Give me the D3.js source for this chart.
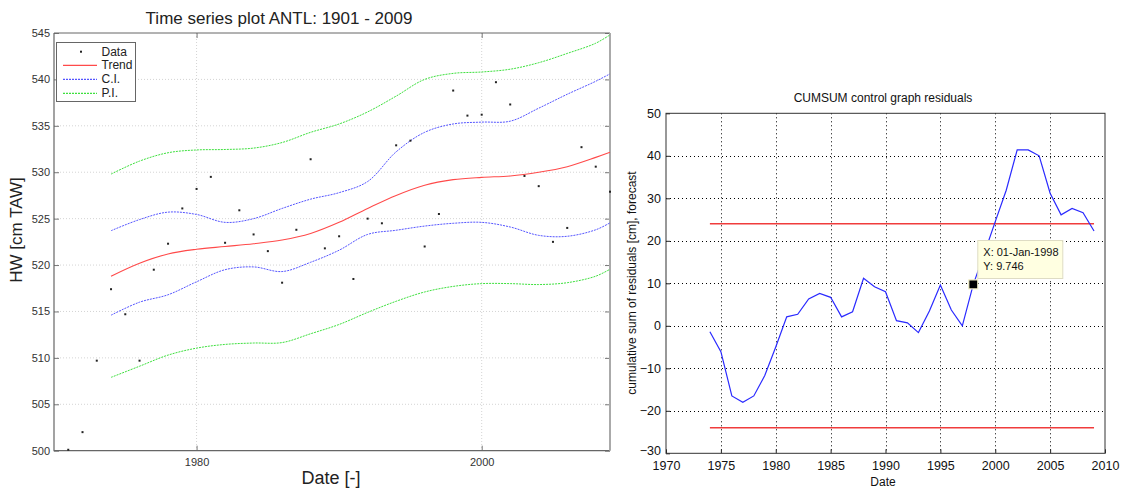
<!DOCTYPE html>
<html>
<head>
<meta charset="utf-8">
<script src="https://cdn.jsdelivr.net/npm/d3@7"></script>
<style>
  body { margin: 0; background: #fff; }
  svg { display: block; font-family: "Liberation Sans", Arial, sans-serif; }
</style>
</head>
<body>
<div id="d3-container"></div>
<script>
/**
 * CONSTANTS AND GLOBALS
 * two panels side by side: time series (left) and CUMSUM control graph (right)
 * */
const width = 1122,
  height = 490;

// left panel: yearly HW values 1971-2009
const dataYears = d3.range(1971, 2010);
const dataValues = [
  500.1, 502.0, 509.7, 517.4, 514.7, 509.7, 519.5, 522.3, 526.1, 528.2,
  529.5, 522.4, 525.9, 523.3, 521.5, 518.1, 523.8, 531.4, 521.8, 523.1,
  518.5, 525.0, 524.5, 532.9, 533.4, 522.0, 525.5, 538.8, 536.1, 536.2,
  539.7, 537.3, 529.6, 528.5, 522.5, 524.0, 532.7, 530.6, 527.9
];

// trend + intervals, read every two years (plus 2009)
const curveYears = [1974, 1976, 1978, 1980, 1982, 1984, 1986, 1988, 1990, 1992,
  1994, 1996, 1998, 2000, 2002, 2004, 2006, 2008, 2009];
const trendValues = [518.8, 520.2, 521.2, 521.7, 522.0, 522.3, 522.7, 523.4, 524.6, 526.1,
  527.5, 528.6, 529.2, 529.45, 529.6, 530.0, 530.6, 531.6, 532.15];
const ciUpper = [523.7, 524.9, 525.7, 525.45, 524.6, 525.0, 526.1, 527.1, 527.8, 529.0,
  532.2, 534.3, 535.2, 535.4, 535.5, 536.9, 538.4, 539.8, 540.6];
const ciLower = [514.6, 516.0, 516.8, 518.2, 519.5, 519.8, 519.3, 520.3, 521.6, 523.3,
  523.75, 524.2, 524.5, 524.6, 524.1, 523.2, 523.1, 523.8, 524.55];
const piUpper = [529.8, 531.2, 532.1, 532.4, 532.45, 532.6, 533.2, 534.3, 535.2, 536.5,
  538.2, 540.0, 540.65, 540.8, 541.1, 541.8, 542.8, 543.9, 544.8];
const piLower = [507.9, 509.1, 510.3, 511.05, 511.45, 511.6, 511.65, 512.6, 513.6, 514.9,
  516.1, 517.1, 517.7, 518.0, 518.0, 517.9, 518.1, 518.8, 519.55];

const leftTicksX = [1980, 2000];
const leftTicksY = d3.range(500, 546, 5);

// right panel: cumulative sum of residuals 1974-2009
const cumYears = d3.range(1974, 2010);
const cumValues = [
  -1.4, -6.1, -16.5, -18.0, -16.5, -11.7, -5.0, 2.1, 2.7, 6.3,
  7.6, 6.7, 2.1, 3.3, 11.2, 9.2, 8.0, 1.2, 0.7, -1.6,
  3.5, 9.6, 3.7, 0.0, 9.746, 17.0, 24.5, 31.9, 41.4, 41.4,
  40.0, 31.2, 26.1, 27.6, 26.6, 22.3
];
const controlLimit = 24;
const controlYears = [1974, 2009];
const rightTicksX = d3.range(1970, 2011, 5);
const rightTicksY = d3.range(-30, 51, 10);
const markedYear = 1998,
  markedValue = 9.746;

const svg = d3
  .select("#d3-container")
  .append("svg")
  .attr("width", width)
  .attr("height", height);

drawLeft();
drawRight();

/**
 * LEFT PANEL
 * */
function drawLeft() {
  const m = { left: 54, right: 610, top: 33, bottom: 450.7 };
  const xScale = d3.scaleLinear().domain([1970, 2009]).range([m.left, m.right]);
  const yScale = d3.scaleLinear().domain([500, 545]).range([m.bottom, m.top]);
  const g = svg.append("g");

  // grid
  g.selectAll(".gy")
    .data(leftTicksY.slice(1, -1))
    .join("line")
    .attr("x1", m.left).attr("x2", m.right)
    .attr("y1", d => yScale(d)).attr("y2", d => yScale(d))
    .attr("stroke", "#d4d4d4").attr("stroke-dasharray", "1,2");
  g.selectAll(".gx")
    .data(leftTicksX)
    .join("line")
    .attr("y1", m.top).attr("y2", m.bottom)
    .attr("x1", d => xScale(d)).attr("x2", d => xScale(d))
    .attr("stroke", "#d4d4d4").attr("stroke-dasharray", "1,2");

  // axes (ticks point inwards like matlab)
  const yAxis = g.append("g")
    .attr("transform", `translate(${m.left},0)`)
    .call(d3.axisLeft(yScale).tickValues(leftTicksY).tickSizeInner(-5).tickSizeOuter(0).tickPadding(4));
  const yAxisR = g.append("g")
    .attr("transform", `translate(${m.right},0)`)
    .call(d3.axisRight(yScale).tickValues(leftTicksY).tickSizeInner(-5).tickSizeOuter(0).tickFormat(""));
  const xAxis = g.append("g")
    .attr("transform", `translate(0,${m.bottom})`)
    .call(d3.axisBottom(xScale).tickValues(leftTicksX).tickFormat(d3.format("d")).tickSizeInner(-5).tickSizeOuter(0).tickPadding(8));
  const xAxisT = g.append("g")
    .attr("transform", `translate(0,${m.top})`)
    .call(d3.axisTop(xScale).tickValues(leftTicksX).tickSizeInner(-5).tickSizeOuter(0).tickFormat(""));
  [yAxis, yAxisR, xAxis, xAxisT].forEach(a => {
    a.select(".domain").remove();
    a.selectAll("line").attr("stroke", "#777");
    a.selectAll("text").attr("font-size", 11).attr("fill", "#333")
      .attr("font-family", "'Liberation Sans', Arial, sans-serif");
  });

  // frame
  g.append("path")
    .attr("d", `M${m.left},${m.top}H${m.right}`)
    .attr("stroke", "#666").attr("fill", "none");
  g.append("path")
    .attr("d", `M${m.left},${m.top}V${m.bottom}H${m.right}`)
    .attr("stroke", "#666").attr("stroke-width", 1.2).attr("fill", "none");
  g.append("path")
    .attr("d", `M${m.right},${m.top}V${m.bottom}`)
    .attr("stroke", "#aaa").attr("stroke-width", 2).attr("fill", "none");

  // curves
  const line = vals => d3.line()
    .x((d, i) => xScale(curveYears[i]))
    .y(d => yScale(d))
    .curve(d3.curveCatmullRom)(vals);

  g.append("path").attr("d", line(piUpper))
    .attr("fill", "none").attr("stroke", "#3ee03e").attr("stroke-width", 1).attr("stroke-dasharray", "2,1");
  g.append("path").attr("d", line(piLower))
    .attr("fill", "none").attr("stroke", "#3ee03e").attr("stroke-width", 1).attr("stroke-dasharray", "2,1");
  g.append("path").attr("d", line(ciUpper))
    .attr("fill", "none").attr("stroke", "#5555ff").attr("stroke-width", 1).attr("stroke-dasharray", "2,1");
  g.append("path").attr("d", line(ciLower))
    .attr("fill", "none").attr("stroke", "#5555ff").attr("stroke-width", 1).attr("stroke-dasharray", "2,1");
  g.append("path").attr("d", line(trendValues))
    .attr("fill", "none").attr("stroke", "#ff4a4a").attr("stroke-width", 1.1);

  // data points
  g.selectAll(".dot")
    .data(dataValues)
    .join("rect")
    .attr("class", "dot")
    .attr("x", (d, i) => xScale(dataYears[i]) - 1)
    .attr("y", d => yScale(d) - 1)
    .attr("width", 2).attr("height", 2)
    .attr("fill", "#222");

  // legend
  const lg = g.append("g");
  lg.append("rect")
    .attr("x", 56.5).attr("y", 42.5).attr("width", 79).attr("height", 59)
    .attr("fill", "#fff").attr("stroke", "#666");
  const items = [
    { name: "Data", y: 51.7 },
    { name: "Trend", y: 65.3, color: "#ff4a4a" },
    { name: "C.I.", y: 79.3, color: "#5555ff", dash: "2,1" },
    { name: "P.I.", y: 93.3, color: "#3ee03e", dash: "2,1" }
  ];
  items.forEach(it => {
    if (it.color) {
      lg.append("line")
        .attr("x1", 63).attr("x2", 97).attr("y1", it.y).attr("y2", it.y)
        .attr("stroke", it.color).attr("stroke-width", 1.2)
        .attr("stroke-dasharray", it.dash ? it.dash : "none");
    } else {
      lg.append("rect").attr("x", 80).attr("y", it.y - 1).attr("width", 2).attr("height", 2).attr("fill", "#222");
    }
    lg.append("text")
      .attr("x", 101.5).attr("y", it.y + 4)
      .attr("font-size", 12).attr("fill", "#222")
      .text(it.name);
  });

  // labels
  g.append("text")
    .attr("x", 279).attr("y", 24)
    .attr("text-anchor", "middle").attr("font-size", 17).attr("fill", "#222")
    .text("Time series plot ANTL: 1901 - 2009");
  g.append("text")
    .attr("x", 331).attr("y", 484)
    .attr("text-anchor", "middle").attr("font-size", 18).attr("fill", "#222")
    .text("Date [-]");
  g.append("text")
    .attr("transform", "translate(22,230) rotate(-90)")
    .attr("text-anchor", "middle").attr("font-size", 17).attr("fill", "#222")
    .text("HW [cm TAW]");
}

/**
 * RIGHT PANEL
 * */
function drawRight() {
  const m = { left: 666, right: 1105, top: 113.3, bottom: 453.3 };
  const xScale = d3.scaleLinear().domain([1970, 2010]).range([m.left, m.right]);
  const yScale = d3.scaleLinear().domain([-30, 50]).range([m.bottom, m.top]);
  const g = svg.append("g");

  // dotted grid
  g.selectAll(".gx")
    .data(rightTicksX.slice(1, -1))
    .join("line")
    .attr("y1", m.top).attr("y2", m.bottom)
    .attr("x1", d => Math.round(xScale(d)) + 0.5).attr("x2", d => Math.round(xScale(d)) + 0.5)
    .attr("stroke", "#000").attr("stroke-dasharray", "1,3");
  g.selectAll(".gy")
    .data(rightTicksY.slice(1, -1))
    .join("line")
    .attr("x1", m.left).attr("x2", m.right)
    .attr("y1", d => Math.round(yScale(d)) + 0.5).attr("y2", d => Math.round(yScale(d)) + 0.5)
    .attr("stroke", "#000").attr("stroke-dasharray", "1,3");

  const yAxis = g.append("g")
    .attr("transform", `translate(${m.left},0)`)
    .call(d3.axisLeft(yScale).tickValues(rightTicksY).tickSizeInner(-4).tickSizeOuter(0).tickPadding(5));
  const xAxis = g.append("g")
    .attr("transform", `translate(0,${m.bottom})`)
    .call(d3.axisBottom(xScale).tickValues(rightTicksX).tickFormat(d3.format("d")).tickSizeInner(-4).tickSizeOuter(0).tickPadding(8));
  yAxis.selectAll(".tick text").filter(d => d === -30).attr("dy", "0.1em");
  [yAxis, xAxis].forEach(a => {
    a.select(".domain").remove();
    a.selectAll("line").attr("stroke", "#222");
    a.selectAll("text").attr("font-size", 12.5).attr("fill", "#111")
      .attr("font-family", "'Liberation Sans', Arial, sans-serif");
  });

  // frame
  g.append("rect")
    .attr("x", m.left).attr("y", m.top)
    .attr("width", m.right - m.left).attr("height", m.bottom - m.top)
    .attr("fill", "none").attr("stroke", "#333").attr("stroke-width", 1);

  // control limits
  [controlLimit, -controlLimit].forEach(v => {
    g.append("line")
      .attr("x1", xScale(controlYears[0])).attr("x2", xScale(controlYears[1]))
      .attr("y1", yScale(v)).attr("y2", yScale(v))
      .attr("stroke", "#f03c3c").attr("stroke-width", 1.5);
  });

  // cumsum line
  g.append("path")
    .datum(cumValues)
    .attr("d", d3.line().x((d, i) => xScale(cumYears[i])).y(d => yScale(d)))
    .attr("fill", "none").attr("stroke", "#2a2aff").attr("stroke-width", 1.2);

  // data cursor
  g.append("rect")
    .attr("x", xScale(markedYear) - 4.5).attr("y", yScale(markedValue) - 4.5)
    .attr("width", 9).attr("height", 9)
    .attr("fill", "#000").attr("stroke", "#f6f2c8").attr("stroke-width", 1.2);
  const tip = g.append("g").attr("transform", `translate(${xScale(markedYear) + 4},240)`);
  tip.append("rect")
    .attr("x", 0.5).attr("y", 0.5).attr("width", 85).attr("height", 38)
    .attr("fill", "#ffffe1").attr("stroke", "#dedcc4");
  tip.append("text").attr("x", 6).attr("y", 16).attr("font-size", 11).attr("fill", "#111").text("X: 01-Jan-1998");
  tip.append("text").attr("x", 6).attr("y", 30).attr("font-size", 11).attr("fill", "#111").text("Y: 9.746");

  // labels
  g.append("text")
    .attr("x", 883).attr("y", 102)
    .attr("text-anchor", "middle").attr("font-size", 12).attr("fill", "#111")
    .text("CUMSUM control graph residuals");
  g.append("text")
    .attr("x", 883).attr("y", 486)
    .attr("text-anchor", "middle").attr("font-size", 12).attr("fill", "#111")
    .text("Date");
  g.append("text")
    .attr("transform", "translate(636,283) rotate(-90)")
    .attr("text-anchor", "middle").attr("font-size", 12).attr("fill", "#111")
    .text("cumulative sum of residuals [cm], forecast");
}
</script>
</body>
</html>
